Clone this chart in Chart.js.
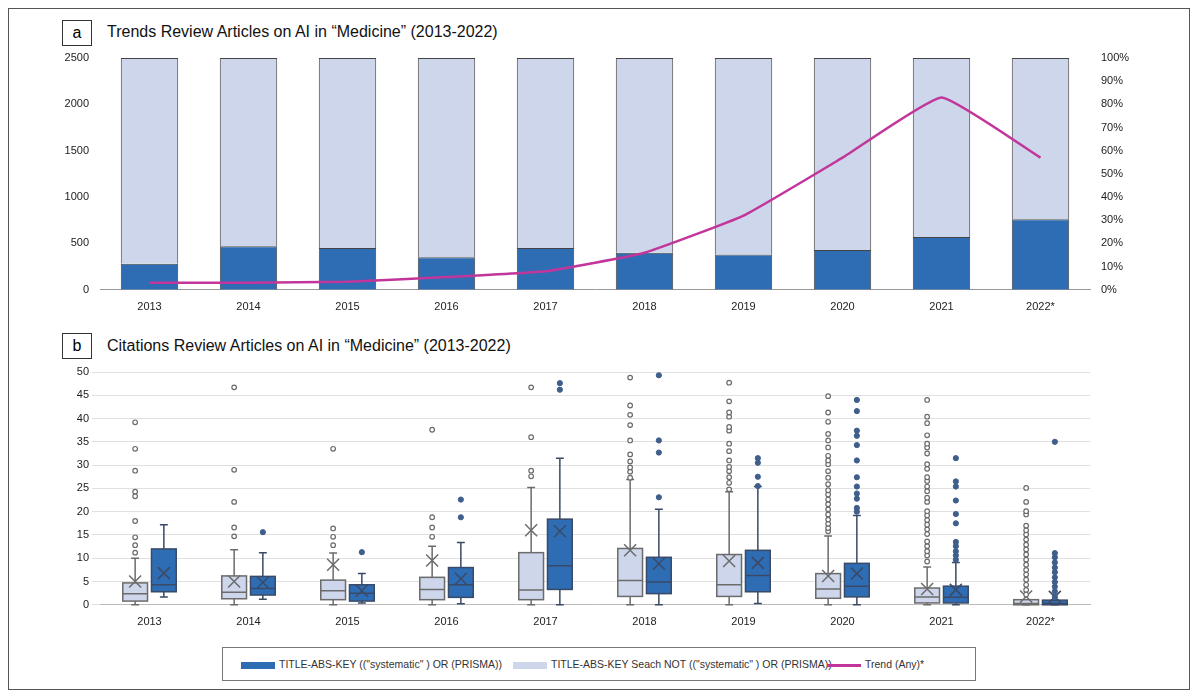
<!DOCTYPE html>
<html lang="en">
<head>
<meta charset="UTF-8">
<title>Review Articles on AI in Medicine</title>
<script src="https://cdn.jsdelivr.net/npm/chart.js@4.4.0/dist/chart.umd.min.js"></script>
<style>
  body { margin:0; background:#fff; font-family:"Liberation Sans", Arial, sans-serif; }
  #frame { position:absolute; left:8px; top:8px; width:1180px; height:680px; border:1px solid #555; }
  .tag { position:absolute; width:28px; height:24px; border:1px solid #333; text-align:center; line-height:24px; font-size:16px; }
  .title { position:absolute; font-size:16px; color:#111; }
  canvas { position:absolute; }
  #legend { position:absolute; left:222px; top:647px; width:752px; height:32px; border:1px solid #777; font-size:10.5px; color:#333; white-space:nowrap; }
  .li { position:absolute; top:10px; }
  .sw { display:inline-block; width:34px; height:7px; vertical-align:middle; margin-right:4px; }
</style>
</head>
<body>
<div id="frame"></div>
<div class="tag" style="left:62px;top:20px">a</div>
<div class="title" style="left:107px;top:23px">Trends Review Articles on AI in “Medicine” (2013-2022)</div>
<div class="tag" style="left:62px;top:333px">b</div>
<div class="title" style="left:107px;top:337px">Citations Review Articles on AI in “Medicine” (2013-2022)</div>
<canvas id="topChart" style="left:60px;top:48px" width="1075" height="269"></canvas>
<canvas id="boxChart" style="left:60px;top:362px" width="1075" height="270"></canvas>
<div id="legend">
  <div class="li" style="left:18px"><span class="sw" style="background:#2E6DB4"></span>TITLE-ABS-KEY (("systematic" ) OR (PRISMA))</div>
  <div class="li" style="left:290px"><span class="sw" style="background:#CDD6EA"></span>TITLE-ABS-KEY Seach NOT (("systematic" ) OR (PRISMA))</div>
  <div class="li" style="left:604px"><span class="sw" style="background:#C2369B;height:3px"></span>Trend (Any)*</div>
</div>
<script>
const years = ['2013','2014','2015','2016','2017','2018','2019','2020','2021','2022*'];
const systematic = [280, 470, 450, 350, 450, 400, 380, 430, 570, 760];
const barTop = 2500;
const trendPct = [3, 3, 3.5, 5.5, 8, 16, 32, 57, 83, 57];

// box stats per year: [min, q1, median, q3, max, mean]
const boxLight = [
  [0,0.8,2.4,4.7,10,5], [0,1.3,2.7,6.2,11.8,5], [0,1.1,3,5.3,11.1,8.6], [0,1.1,3.3,5.9,12.6,9.5],
  [0,1.1,3.2,11.2,25.2,16], [0,1.8,5.2,12.1,26.9,11.7], [0,1.8,4.3,10.8,24.3,9.4],
  [0,1.4,3.4,6.7,14.8,6.2], [0,0.4,1.7,3.6,8.1,3.4], [0,0,0.3,1.1,1.1,1.8]
];
const boxDark = [
  [1.7,2.8,4.3,12,17.2,6.8], [1.2,2.1,3.5,6.1,11.2,4.8], [0.4,0.8,2.5,4.3,6.7,3], [0.2,1.6,4.3,8,13.4,5.6],
  [0,3.3,8.4,18.4,31.5,15.8], [0,2.4,4.9,10.2,20.5,8.8], [0.3,2.8,6.3,11.7,25.4,9],
  [0,1.7,4,8.9,19.2,6.7], [0,0.4,1.6,4,9.1,3.2], [0,0,0.3,1,1,1.7]
];
const outLight = [
  [11.2,12.8,14.5,18,23.3,24.3,28.8,33.5,39.2],
  [14.7,16.6,22.1,29,46.7],
  [12.8,14.6,16.4,33.5],
  [14.6,16.6,18.8,37.6],
  [27.6,28.8,36,46.7],
  [27.3,28.6,29.5,30.8,32.3,35.3,38.6,40.8,42.8,48.8],
  [24.8,26.2,27.4,28.7,29.6,31,33,34.6,37.4,38.2,40.4,41.3,43.7,47.7],
  [15.8,16.5,17.4,18.3,19.4,20.5,21.6,22.6,23.7,24.6,25.9,27.3,28.7,30.2,31,32,33.8,35.3,36.7,39.3,41.3,44.8],
  [9.3,10.6,11.5,12.6,13.6,15.2,16.2,17.2,18.2,19.2,20.1,22.1,23,24.4,25.4,26.6,27.4,29.2,30.2,32.5,33.8,34.6,36.4,39,40.4,44],
  [2.2,3.2,4.3,5.4,6.5,7.5,8.6,9.7,10.8,11.9,12.9,14,15.1,16,17,19.4,20.1,22.1,25.1]
];
const outDark = [
  [],
  [15.6],
  [11.3],
  [18.8,22.6],
  [46.2,47.6],
  [23.1,32.7,35.3,49.3],
  [25.5,27.5,30.5,31.5],
  [20,20.8,22.8,23.9,25.4,27.4,31,34.3,36.3,37.4,41.6,44],
  [9.7,10.6,11.5,12.6,13.5,17.5,19.5,22.4,25.4,26.5,31.5],
  [1.7,2.9,3.9,4.9,5.9,7,8,9.1,10.2,11.1,35]
];

const darkBlue = '#2E6DB4';
const lightBlue = '#CDD6EA';
const font = { family: '"Liberation Sans", Arial, sans-serif', size: 11 };
Chart.defaults.font = font;
Chart.defaults.color = '#222';

// ---- chart a ----
new Chart(document.getElementById('topChart'), {
  data: {
    labels: years,
    datasets: [
      { type: 'line', label: 'Trend (Any)*', data: trendPct, yAxisID: 'y1', borderColor: '#C2369B',
        borderWidth: 2.5, pointRadius: 0, tension: 0.12, order: 0 },
      { type: 'bar', label: 'systematic', data: systematic, backgroundColor: darkBlue,
        borderColor: '#444', borderWidth: 1, categoryPercentage: 0.58, barPercentage: 1, order: 1 },
      { type: 'bar', label: 'not systematic', data: systematic.map(v => barTop - v), backgroundColor: lightBlue,
        borderColor: '#444', borderWidth: 1, categoryPercentage: 0.58, barPercentage: 1, order: 2 }
    ]
  },
  options: {
    responsive: false, animation: false,
    layout: { padding: { top: 10 } },
    plugins: { legend: { display: false }, tooltip: { enabled: false } },
    scales: {
      x: { stacked: true, grid: { display: false }, border: { color: '#999' }, ticks: { color: '#222' } },
      y: { stacked: true, min: 0, max: 2500, ticks: { stepSize: 500, callback: v => String(v) }, grid: { display: false },
           border: { display: false }, afterFit: s => { s.width = 40; } },
      y1: { position: 'right', min: 0, max: 100, ticks: { stepSize: 10, callback: v => v + '%' },
            grid: { display: false }, border: { display: false }, afterFit: s => { s.width = 45; } }
    }
  }
});

// ---- chart b ----
const off = 0.145, half = 0.125;
const boxPlugin = {
  id: 'boxes',
  beforeDatasetsDraw(chart) {
    const { ctx, scales: { x, y } } = chart;
    const drawBox = (st, cx, fill, edge) => {
      const l = x.getPixelForValue(cx - half), r = x.getPixelForValue(cx + half), m = x.getPixelForValue(cx);
      const cap = (r - l) * 0.16;
      ctx.save();
      ctx.strokeStyle = edge; ctx.lineWidth = 1.5;
      ctx.beginPath();
      ctx.moveTo(m, y.getPixelForValue(st[0])); ctx.lineTo(m, y.getPixelForValue(st[1]));
      ctx.moveTo(m, y.getPixelForValue(st[3])); ctx.lineTo(m, y.getPixelForValue(st[4]));
      ctx.moveTo(m - cap, y.getPixelForValue(st[0])); ctx.lineTo(m + cap, y.getPixelForValue(st[0]));
      ctx.moveTo(m - cap, y.getPixelForValue(st[4])); ctx.lineTo(m + cap, y.getPixelForValue(st[4]));
      ctx.stroke();
      const t = y.getPixelForValue(st[3]), b = y.getPixelForValue(st[1]);
      ctx.fillStyle = fill;
      ctx.fillRect(l, t, r - l, Math.max(b - t, 2));
      ctx.strokeRect(l, t, r - l, Math.max(b - t, 2));
      ctx.beginPath();
      const md = y.getPixelForValue(st[2]);
      ctx.moveTo(l, md); ctx.lineTo(r, md);
      const mn = y.getPixelForValue(st[5]);
      ctx.moveTo(m - 6, mn - 6); ctx.lineTo(m + 6, mn + 6);
      ctx.moveTo(m + 6, mn - 6); ctx.lineTo(m - 6, mn + 6);
      ctx.stroke();
      ctx.restore();
    };
    years.forEach((_, i) => {
      drawBox(boxLight[i], i - off, lightBlue, '#6b6b6b');
      drawBox(boxDark[i], i + off, darkBlue, '#3a4a66');
    });
  }
};
const pts = (arr, d) => arr.flatMap((vals, i) => vals.map(v => ({ x: i + d, y: v })));

new Chart(document.getElementById('boxChart'), {
  type: 'scatter',
  data: {
    datasets: [
      { data: pts(outLight, -off), pointRadius: 2.3, pointBackgroundColor: '#fff', pointBorderColor: '#6b6b6b', pointBorderWidth: 1.2 },
      { data: pts(outDark, off), pointRadius: 2.6, pointBackgroundColor: '#3F5E8C', pointBorderColor: '#3F5E8C', pointBorderWidth: 1 }
    ]
  },
  options: {
    responsive: false, animation: false,
    layout: { padding: { top: 10, right: 45 } },
    plugins: { legend: { display: false }, tooltip: { enabled: false } },
    scales: {
      x: { type: 'linear', min: -0.5, max: 9.5, afterBuildTicks: s => { s.ticks = years.map((_, i) => ({ value: i })); },
           ticks: { callback: v => years[v] }, grid: { display: false }, border: { color: '#bbb' } },
      y: { min: 0, max: 50, ticks: { stepSize: 5 }, grid: { color: '#e0e0e0' }, border: { display: false },
           afterFit: s => { s.width = 40; } }
    }
  },
  plugins: [boxPlugin]
});
</script>
</body>
</html>
